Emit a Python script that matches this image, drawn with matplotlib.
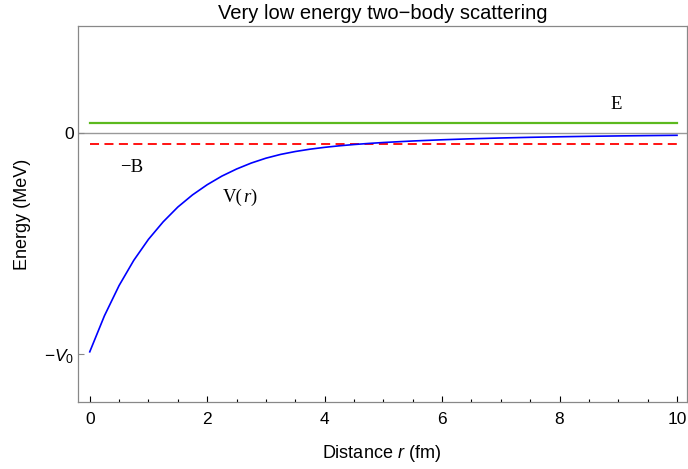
import matplotlib
matplotlib.use('Agg')
import matplotlib.pyplot as plt
from matplotlib.ticker import MultipleLocator

# values (energies in units of V0)
r_vals = [0.0, 0.25, 0.5, 0.75, 1.0, 1.25, 1.5, 1.75, 2.0, 2.25, 2.5, 2.75,
          3.0, 3.25, 3.5, 3.75, 4.0, 4.25, 4.5, 4.75, 5.0, 5.5, 6.0, 6.5,
          7.0, 7.5, 8.0, 8.5, 9.0, 9.5, 10.0]
v_vals = [-0.99, -0.827, -0.690, -0.576, -0.481, -0.402, -0.335, -0.280,
          -0.234, -0.195, -0.163, -0.136, -0.114, -0.0969, -0.0838, -0.0733,
          -0.0649, -0.0580, -0.0522, -0.0473, -0.0431, -0.0362, -0.0307,
          -0.0262, -0.0226, -0.0196, -0.0171, -0.0150, -0.0133, -0.0118,
          -0.0105]
E_level = 0.045
B_level = -0.051
r_span = [0.0, 10.0]
y_ticks = [-1.0, 0.0]
y_tick_labels = [r'$-V_0$', '0']

plt.rcParams['font.family'] = ['Liberation Sans', 'DejaVu Sans']
plt.rcParams['mathtext.fontset'] = 'custom'
plt.rcParams['mathtext.it'] = 'Liberation Sans:italic'
plt.rcParams['mathtext.rm'] = 'Liberation Sans'

fig = plt.figure(figsize=(6.88, 4.69), dpi=100)
ax = fig.add_axes([78 / 688, 1 - 402 / 469, 609 / 688, 376 / 469])

ax.axhline(0, color='#999999', linewidth=1.0, zorder=1)
ax.plot(r_span, [E_level, E_level], color='#5cb91e', linewidth=1.6)
ax.plot(r_span, [B_level, B_level], color='red', linewidth=1.3,
        linestyle=(0, (5, 3)))
ax.plot(r_vals, v_vals, color='blue', linewidth=1.2)

# curve labels (serif, like the reference)
serif = ['Liberation Serif', 'DejaVu Serif']
fs = 13.5
ax.text(8.97, 0.127, 'E', family=serif, fontsize=fs, ha='center', va='center')
ax.text(0.71, -0.158, '\u2212B', family=serif, fontsize=fs, ha='center', va='center')
ax.annotate('V(', (2.6, -0.29), xytext=(0, 0), textcoords='offset points',
            family=serif, fontsize=fs, ha='right', va='center')
ax.annotate('r', (2.6, -0.29), xytext=(0.5, 0), textcoords='offset points',
            family=serif, style='italic', fontsize=fs, ha='left', va='center')
ax.annotate(')', (2.6, -0.29), xytext=(6.0, 0), textcoords='offset points',
            family=serif, fontsize=fs, ha='left', va='center')

ax.set_xlim(-0.2, 10.17)
ax.set_ylim(-1.217, 0.484)
ax.set_yticks(y_ticks)
ax.set_yticklabels(y_tick_labels)
ax.xaxis.set_major_locator(MultipleLocator(2))
ax.xaxis.set_minor_locator(MultipleLocator(0.5))
ax.tick_params(axis='x', which='major', direction='in', length=4.5, width=0.8,
               labelsize=12.5, pad=7)
ax.tick_params(axis='x', which='minor', direction='in', length=2.5, width=0.8)
ax.tick_params(axis='y', direction='in', length=4.5, width=0.8, color='#888888',
               labelsize=12.5, pad=3)
for s in ax.spines.values():
    s.set_color('#888888')
    s.set_linewidth(0.9)

ax.set_title('Very low energy two\u2212body scattering', fontsize=14.5, pad=5)
ax.set_xlabel(r'Distance $r$ (fm)', fontsize=13)
ax.set_ylabel('Energy (MeV)', fontsize=13)
ax.xaxis.set_label_coords(0.499, -0.109)
ax.yaxis.set_label_coords(-0.077, 0.5)

fig.savefig('out.png', dpi=100)
